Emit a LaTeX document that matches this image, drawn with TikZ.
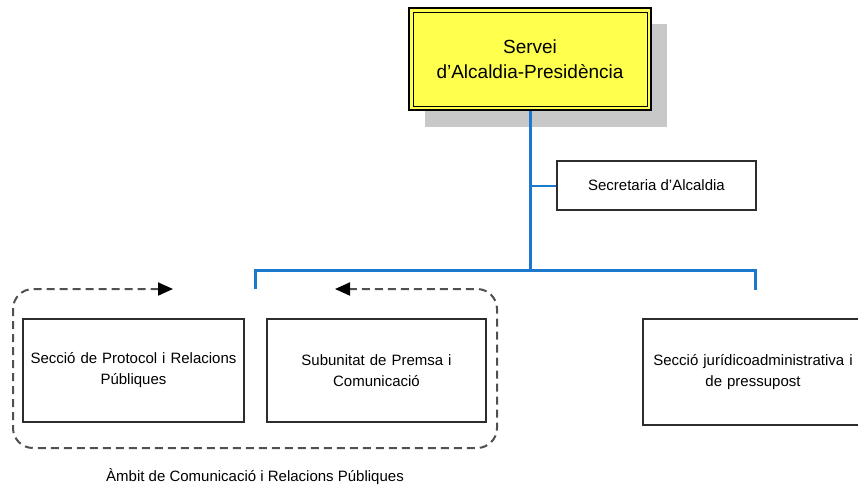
\documentclass[tikz,border=0pt]{standalone}
\usepackage{fontspec}
\setmainfont{Liberation Sans}
\usetikzlibrary{arrows.meta}
\definecolor{ybox}{RGB}{255,255,77}
\definecolor{shadowgray}{RGB}{200,200,200}
\definecolor{orgblue}{RGB}{28,120,205}
\definecolor{dashgray}{RGB}{80,80,80}
\definecolor{boxline}{RGB}{45,45,45}
\begin{document}
\begin{tikzpicture}[x=1pt,y=-1pt,
  unitbox/.style={draw=boxline,line width=1.5pt,fill=white,align=center,inner sep=0pt,
    font=\fontsize{15}{21}\selectfont},
  bus/.style={draw=orgblue,line width=3pt},
  thinbus/.style={draw=orgblue,line width=2pt},
  groupline/.style={draw=dashgray,line width=2pt,dash pattern=on 8pt off 5pt,rounded corners=20pt,
    {Triangle[length=15pt,width=13pt,black]}-{Triangle[length=15pt,width=13pt,black]}},
  lbl/.style={font=\fontsize{15}{18}\selectfont,inner sep=0pt}]
\clip (0,0) rectangle (858,491);
\fill[white] (0,0) rectangle (858,491);
% shadow of top box
\fill[shadowgray] (425,24) rectangle (667,127);
% top box
\node[fill=ybox,draw=black,line width=1.8pt,minimum width=242pt,minimum height=102pt,inner sep=0pt,
  align=center,font=\fontsize{19}{25}\selectfont] (top) at (530,59) {Servei\\d’Alcaldia-Presidència};
\draw[black,line width=0.9pt] (413,12) rectangle (647,106);
% secretaria
\node[unitbox,minimum width=199pt,minimum height=49pt] (sec) at (656.5,185.5) {Secretaria d’Alcaldia};
% lower boxes
\node[unitbox,minimum width=221pt,minimum height=103pt,text width=215pt] (prot) at (133.5,370.5) {Secció de Protocol i Relacions\\Públiques};
\node[unitbox,minimum width=219pt,minimum height=103pt,text width=213pt] (prem) at (376.5,370.5) {Subunitat de Premsa i\\Comunicació};
\node[unitbox,minimum width=220pt,minimum height=106pt,text width=214pt] (jur) at (753,372) {Secció jurídicoadministrativa i\\de pressupost};
% connectors
\coordinate (junc) at (530,270);
\coordinate (secj) at (530,185.5);
\coordinate (busL) at (255,270);
\coordinate (busR) at (755,270);
\coordinate (dropL) at (255,289);
\coordinate (dropR) at (755,290);
\draw[bus] (top.south) -- (junc);
\draw[thinbus] (secj) -- (sec.west);
\draw[bus,line cap=rect] (busL) -- (busR);
\draw[bus] (busL) -- (dropL);
\draw[bus] (busR) -- (dropR);
% dashed group
\coordinate (gA) at (173,289);
\coordinate (gB) at (335,289);
\draw[groupline] (gA) -| (13,448) -| (497,289) -- (gB);
\node[lbl] (glabel) at (255,477) {Àmbit de Comunicació i Relacions Públiques};
\end{tikzpicture}
\end{document}
